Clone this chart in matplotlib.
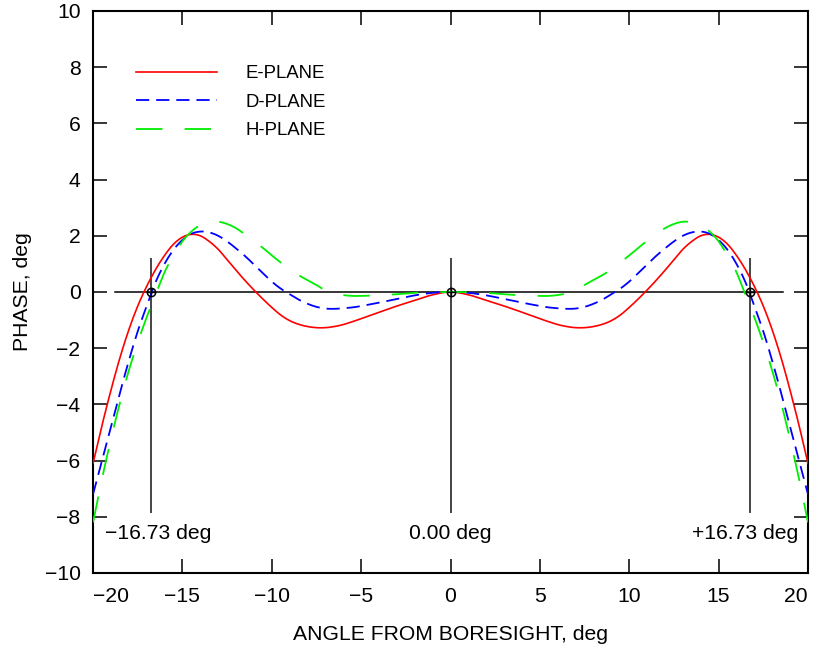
import numpy as np
import matplotlib
matplotlib.use("Agg")
import matplotlib.pyplot as plt

plt.rcParams["font.family"] = ["Liberation Sans", "DejaVu Sans"]
plt.rcParams["lines.scale_dashes"] = False

# -- Data --------------------------------------------------------------------
angle = [-20, -19.5, -19, -18.5, -18, -17.5, -17, -16.5, -16, -15.5, -15, -14.5,
         -14, -13.5, -13, -12.5, -12, -11.5, -11, -10.5, -10, -9.5, -9, -8.5,
         -8, -7.5, -7, -6.5, -6, -5.5, -5, -4, -3, -2, -1, 0,
         1, 2, 3, 4, 5, 5.5, 6, 6.5, 7, 7.5, 8, 8.5, 9, 9.5, 10, 10.5, 11,
         11.5, 12, 12.5, 13, 13.5, 14, 14.5, 15, 15.5, 16, 16.5, 17, 17.5,
         18, 18.5, 19, 19.5, 20]

e_plane = [-6.1, -4.75, -3.5, -2.35, -1.35, -0.5, 0.2, 0.8, 1.3, 1.7, 1.95, 2.05,
           2.0, 1.8, 1.52, 1.15, 0.77, 0.41, 0.07, -0.25, -0.55, -0.82, -1.02, -1.15,
           -1.23, -1.27, -1.27, -1.23, -1.16, -1.06, -0.95, -0.72, -0.5, -0.3, -0.1, 0.0,
           -0.1, -0.3, -0.5, -0.72, -0.95, -1.06, -1.16, -1.23, -1.27, -1.27, -1.23, -1.15,
           -1.02, -0.82, -0.55, -0.25, 0.07, 0.41, 0.77, 1.15, 1.52, 1.8, 2.0, 2.05,
           1.95, 1.7, 1.3, 0.8, 0.2, -0.5, -1.35, -2.35, -3.5, -4.75, -6.1]

d_plane = [-7.2, -6.0, -4.8, -3.6, -2.45, -1.4, -0.5, 0.35, 1.0, 1.5, 1.85, 2.07,
           2.15, 2.12, 2.0, 1.8, 1.55, 1.28, 0.98, 0.67, 0.37, 0.12, -0.08, -0.27,
           -0.42, -0.53, -0.59, -0.6, -0.58, -0.55, -0.5, -0.38, -0.25, -0.12, -0.03, 0.0,
           -0.03, -0.12, -0.25, -0.38, -0.5, -0.55, -0.58, -0.6, -0.59, -0.53, -0.42, -0.27,
           -0.08, 0.12, 0.37, 0.67, 0.98, 1.28, 1.55, 1.8, 2.0, 2.12, 2.15, 2.07,
           1.85, 1.5, 1.0, 0.35, -0.5, -1.4, -2.45, -3.6, -4.8, -6.0, -7.2]

h_plane = [-8.2, -6.65, -5.25, -3.95, -2.8, -1.8, -0.9, -0.1, 0.7, 1.3, 1.8, 2.15,
           2.38, 2.48, 2.5, 2.42, 2.27, 2.05, 1.82, 1.57, 1.3, 1.05, 0.8, 0.6,
           0.42, 0.25, 0.05, -0.05, -0.11, -0.14, -0.14, -0.12, -0.08, -0.03, -0.01, 0.0,
           -0.01, -0.03, -0.08, -0.12, -0.14, -0.14, -0.11, -0.05, 0.05, 0.25, 0.42, 0.6,
           0.8, 1.05, 1.3, 1.57, 1.82, 2.05, 2.27, 2.42, 2.5, 2.48, 2.38, 2.15,
           1.8, 1.3, 0.7, -0.1, -0.9, -1.8, -2.8, -3.95, -5.25, -6.65, -8.2]

markers_x = [-16.73, 0.0, 16.73]
marker_labels = ["\u221216.73 deg", "0.00 deg", "+16.73 deg"]
xticks = [-20, -15, -10, -5, 0, 5, 10, 15, 20]
xtick_labels = ["\u221220", "\u221215", "\u221210", "\u22125", "0", "5", "10", "15", "20"]
yticks = [-10, -8, -6, -4, -2, 0, 2, 4, 6, 8, 10]
ytick_labels = ["\u221210", "\u22128", "\u22126", "\u22124", "\u22122", "0", "2", "4", "6", "8", "10"]


def smooth(x, y, n=12):
    # Catmull-Rom pass through the read points, only to draw a smooth line
    x = np.asarray(x, float)
    y = np.asarray(y, float)
    px = np.concatenate([[2 * x[0] - x[1]], x, [2 * x[-1] - x[-2]]])
    py = np.concatenate([[2 * y[0] - y[1]], y, [2 * y[-1] - y[-2]]])
    t = np.linspace(0, 1, n, endpoint=False)[:, None]
    out_x, out_y = [], []
    for i in range(1, len(px) - 2):
        for p, out in ((px, out_x), (py, out_y)):
            p0, p1, p2, p3 = p[i - 1], p[i], p[i + 1], p[i + 2]
            seg = 0.5 * (2 * p1 + (-p0 + p2) * t + (2 * p0 - 5 * p1 + 4 * p2 - p3) * t ** 2
                         + (-p0 + 3 * p1 - 3 * p2 + p3) * t ** 3)
            out.extend(seg.ravel())
    out_x.append(x[-1])
    out_y.append(y[-1])
    return out_x, out_y


FS = 15.2

fig = plt.figure(figsize=(8.14, 6.54), dpi=100)
ax = fig.add_axes([0.1143, 0.1239, 0.8783, 0.8593])

# reference lines
ax.plot([-18.75, 18.6], [0, 0], color="black", lw=1.1, zorder=2)
for mx in markers_x:
    ax.plot([mx, mx], [-7.82, 1.16], color="#444444", lw=1.4, zorder=2)

ax.plot(*smooth(angle, e_plane), color="#ff0000", lw=1.2, label="E-PLANE", zorder=3)
ax.plot(*smooth(angle, d_plane), color="#0000ff", lw=1.3, dashes=(9.5, 5),
        label="D-PLANE", zorder=3)
ax.plot(*smooth(angle, h_plane), color="#00ee00", lw=1.3, dashes=(19, 16),
        label="H-PLANE", zorder=3)

# crosshair markers at the zero points
ax.plot(markers_x, [0, 0, 0], linestyle="none", marker="o", ms=6,
        mfc="none", mec="black", mew=1.1, zorder=4)
ax.plot(markers_x, [0, 0, 0], linestyle="none", marker="+", ms=6,
        color="black", mew=1.0, zorder=4)

ax.text(-19.35, -8.6, marker_labels[0], ha="left", va="center", fontsize=FS)
ax.text(0.0, -8.6, marker_labels[1], ha="center", va="center", fontsize=FS)
ax.text(19.45, -8.6, marker_labels[2], ha="right", va="center", fontsize=FS)

ax.set_xlim(-20, 20)
ax.set_ylim(-10, 10)
ax.set_xticks(xticks)
ax.set_xticklabels(xtick_labels, fontsize=FS)
ax.set_yticks(yticks)
ax.set_yticklabels(ytick_labels, fontsize=FS)
xl = ax.get_xticklabels()
xl[0].set_horizontalalignment("left")
xl[-1].set_horizontalalignment("right")

ax.tick_params(direction="in", length=10, width=1.1, top=True, right=True)
ax.tick_params(axis="x", pad=10)
ax.tick_params(axis="y", pad=9)
for sp in ax.spines.values():
    sp.set_linewidth(1.5)

ax.set_xlabel("ANGLE FROM BORESIGHT, deg", fontsize=FS, labelpad=14)
ax.set_ylabel("PHASE, deg", fontsize=FS, labelpad=9)

ax.legend(loc="upper left", bbox_to_anchor=(0.049, 0.917), frameon=False,
          fontsize=13.4, handlelength=4.4, handletextpad=1.5, labelspacing=0.62,
          borderaxespad=0)

fig.savefig("out.png", dpi=100)
